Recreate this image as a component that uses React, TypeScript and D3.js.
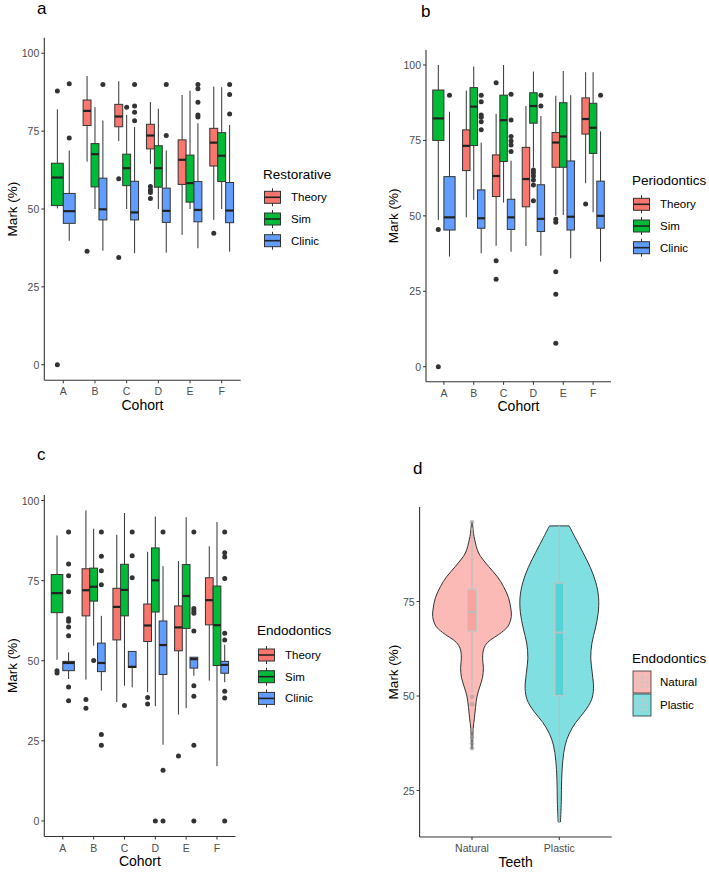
import React from 'react';
import * as d3 from 'd3';

const cohorts = ['A', 'B', 'C', 'D', 'E', 'F'];
const components = ['Theory', 'Sim', 'Clinic'];
const componentFill: Record<string, string> = { Theory: '#F8766D', Sim: '#00BA38', Clinic: '#619CFF' };
const markTicks = [0, 25, 50, 75, 100];

// [cohort, component, lower whisker, q1, median, q3, upper whisker, outliers]
type BoxRow = [string, string, number, number, number, number, number, number[]];

const restorative: BoxRow[] = [
  ['A', 'Sim', 50.2, 51.1, 60.1, 64.7, 82, [87.9, 0]],
  ['A', 'Clinic', 39.8, 45.4, 49.3, 55, 68.8, [90.2, 72.8]],
  ['B', 'Theory', 65.2, 76.8, 81.5, 85, 92.7, [36.4]],
  ['B', 'Sim', 50, 57.1, 67.6, 71, 82.7, []],
  ['B', 'Clinic', 36.6, 46.5, 49.9, 59.9, 78.4, [90]],
  ['C', 'Theory', 71.8, 76.4, 79.7, 83.6, 91, [59.7, 34.4]],
  ['C', 'Sim', 50, 57.5, 63.1, 67.6, 80.2, [82.7]],
  ['C', 'Clinic', 35.8, 46.5, 48.9, 58.9, 76.3, [90, 83.1, 81.1, 78.3]],
  ['D', 'Theory', 64.5, 69.3, 73.6, 77.2, 84.3, [57.2, 56.1, 55.3, 53.4]],
  ['D', 'Sim', 50, 57, 63.1, 70.3, 82.2, []],
  ['D', 'Clinic', 36, 45.7, 49.4, 56.7, 68.8, [90, 73.6]],
  ['E', 'Theory', 41.7, 57.9, 65.8, 72.2, 86.6, []],
  ['E', 'Sim', 50, 52.2, 58.3, 67.3, 88, []],
  ['E', 'Clinic', 37.4, 45.9, 49.7, 58.8, 77.5, [90, 88.6, 84.3, 80.2, 79.5]],
  ['F', 'Theory', 46.5, 63.8, 71.3, 75.9, 89.3, [42.2]],
  ['F', 'Sim', 50, 58.8, 67.1, 74.5, 89.1, []],
  ['F', 'Clinic', 36.3, 45.6, 49.5, 58.5, 77, [90, 86.8, 80.5]],
];

const periodontics: BoxRow[] = [
  ['A', 'Sim', 48.6, 75, 82.3, 91.7, 100, [45.5, 0]],
  ['A', 'Clinic', 36.5, 45.3, 49.5, 63, 84.5, [90]],
  ['B', 'Theory', 49.5, 65, 73.2, 78.5, 91.5, []],
  ['B', 'Sim', 55.3, 73.3, 86.2, 92.5, 99.5, []],
  ['B', 'Clinic', 37.6, 45.9, 49.2, 58.6, 74.3, [90, 87.8, 83.4, 82.7, 81.2, 78.5]],
  ['C', 'Theory', 40.1, 56.4, 63.2, 70.2, 83.8, [94.1, 35.1, 29]],
  ['C', 'Sim', 54.4, 68, 81.7, 90, 100, []],
  ['C', 'Clinic', 38.1, 45.5, 49.5, 55.5, 68.3, [90.3, 81.8, 76.3, 74.8, 73.5, 71.3]],
  ['D', 'Theory', 40, 53, 62.2, 72.7, 86.4, []],
  ['D', 'Sim', 66.1, 80.7, 86.4, 90.8, 97.8, [65.2, 64.3, 63.2, 61.9, 60.2, 55]],
  ['D', 'Clinic', 36.8, 44.8, 49, 60.3, 83.1, [90, 86.4]],
  ['E', 'Theory', 50, 66.1, 74.3, 77.6, 89.8, [48.9, 47.9, 31.5, 24, 7.8]],
  ['E', 'Sim', 50.3, 66.1, 76.3, 87.5, 98, []],
  ['E', 'Clinic', 35.9, 45.3, 49.7, 68.2, 90, []],
  ['F', 'Theory', 60.8, 77.1, 82.1, 89.1, 97.6, [53.9]],
  ['F', 'Sim', 51.2, 70.7, 79.2, 87.3, 97.6, []],
  ['F', 'Clinic', 34.8, 45.9, 50, 61.5, 78, [90]],
];

const endodontics: BoxRow[] = [
  ['A', 'Sim', 50.3, 65, 71.1, 76.9, 89.1, [46.9, 46.2]],
  ['A', 'Clinic', 44.3, 46.9, 49.3, 49.8, 52.6, [90.2, 80.2, 76.5, 71.5, 63.1, 62.3, 60.5, 57.8, 41.8, 37.5]],
  ['B', 'Theory', 44.1, 64, 72, 78.7, 96.9, [37.9, 35.2]],
  ['B', 'Sim', 54.7, 68.6, 73.1, 78.9, 91.2, [50.1]],
  ['B', 'Clinic', 40.7, 46.6, 49.3, 55.5, 64, [90.2, 82.6, 78.1, 73.7, 27, 23.6]],
  ['C', 'Theory', 37.1, 56.5, 66.8, 72.6, 89.3, []],
  ['C', 'Sim', 42.2, 64, 72.1, 80.1, 96.1, [36]],
  ['C', 'Clinic', 41.7, 47.9, 48.1, 52.9, 52.9, [90.2, 82.8, 75.9]],
  ['D', 'Theory', 40.2, 56, 61, 67.7, 84, [38.5, 36.5]],
  ['D', 'Sim', 35.8, 65.2, 75.1, 85.2, 95, [0]],
  ['D', 'Clinic', 23.8, 45.7, 54.9, 62.4, 79.5, [90.2, 15.8, 0]],
  ['E', 'Theory', 33.2, 53.1, 60.4, 67.1, 81.1, [20.3]],
  ['E', 'Sim', 35.2, 60.1, 70.2, 80, 94.8, []],
  ['E', 'Clinic', 45.3, 47.7, 50.5, 51.1, 51.1, [90.2, 66.3, 65.5, 64.8, 59.3, 42.2, 38.9, 23.6, 0]],
  ['F', 'Theory', 43.8, 61.2, 68.9, 75.9, 85.7, []],
  ['F', 'Sim', 17.1, 48.5, 61.1, 73.3, 93.3, []],
  ['F', 'Clinic', 43.3, 46.1, 48.7, 49.8, 55, [90.2, 83.7, 82.4, 75.7, 58.6, 56.5, 40.5, 38.4, 0]],
];

// Teeth comparison (violins with a narrow box inside)
const teeth = ['Natural', 'Plastic'];
const teethFill: Record<string, string> = { Natural: '#F8766D', Plastic: '#00BFC4' };
const teethTicks = [25, 50, 75];
const naturalMarks = [96, 93, 91.3, 87.8, 84.3, 81.5, 79, 76, 73, 71, 68.5, 66.8, 64.2, 62.5, 60, 57.5, 55, 52.5, 50, 47, 44, 41.4, 38.5, 36];
const naturalDensity = [0.01, 0.04, 0.07, 0.17, 0.42, 0.65, 0.8, 0.93, 0.99, 1.0, 0.92, 0.75, 0.4, 0.3, 0.27, 0.29, 0.27, 0.2, 0.13, 0.09, 0.06, 0.03, 0.02, 0.01];
const plasticMarks = [95, 92, 88, 84, 80, 76, 72, 68, 64, 60, 56, 52, 49, 46, 43, 40, 37, 33, 28, 22, 16.7];
const plasticDensity = [0.25, 0.4, 0.6, 0.79, 0.93, 1.0, 0.99, 0.92, 0.83, 0.8, 0.84, 0.87, 0.82, 0.65, 0.42, 0.25, 0.15, 0.09, 0.06, 0.05, 0.03];
// [lower whisker, q1, median, q3, upper whisker]
const naturalBox = [51, 67.2, 72.2, 78.2, 94.5];
const naturalOutliers = [96, 49.8, 47.8, 41, 39, 37.5, 36.2];
const plasticBox = [16.7, 50.1, 66.8, 79.9, 95];

const FONT = '"Liberation Sans", Arial, Helvetica, sans-serif';
const INK = '#333333';

interface PanelCfg {
  letter: string;
  letterPos: [number, number];
  data: BoxRow[];
  xRange: [number, number];
  yDomain: [number, number];
  yRange: [number, number];
  yTitleX: number;
  xTitle: string;
  legendTitle: string;
  legendX: number;
  legendTitleY: number;
  legendKeyY: number;
}

function AxisFrame({ x, y, ticks, xLabels, yTitleX, xTitle }: any) {
  const [x0, x1] = x.range();
  const [yb, yt] = y.range();
  return (
    <g fontFamily={FONT}>
      <line x1={x0} x2={x0} y1={yt} y2={yb} stroke={INK} strokeWidth={1.1} />
      <line x1={x0} x2={x1} y1={yb} y2={yb} stroke={INK} strokeWidth={1.1} />
      {ticks.map((t: number) => (
        <g key={t}>
          <line x1={x0 - 3} x2={x0} y1={y(t)} y2={y(t)} stroke={INK} strokeWidth={1} />
          <text x={x0 - 5} y={y(t)} textAnchor="end" dominantBaseline="central" fontSize={10.5} fill="#4D4D4D">{t}</text>
        </g>
      ))}
      {xLabels.map((c: string) => (
        <g key={c}>
          <line x1={x(c)} x2={x(c)} y1={yb} y2={yb + 3} stroke={INK} strokeWidth={1} />
          <text x={x(c)} y={yb + 11} textAnchor="middle" dominantBaseline="central" fontSize={10.5} fill="#4D4D4D">{c}</text>
        </g>
      ))}
      <text transform={`translate(${yTitleX},${(yb + yt) / 2}) rotate(-90)`} textAnchor="middle" dominantBaseline="central" fontSize={13.5} fill="#000">Mark (%)</text>
      <text x={(x0 + x1) / 2} y={yb + 24.5} textAnchor="middle" dominantBaseline="central" fontSize={14} fill="#000">{xTitle}</text>
    </g>
  );
}

function BoxPanel({ cfg }: { cfg: PanelCfg }) {
  const x = d3.scalePoint<string>().domain(cohorts).range(cfg.xRange).padding(0.6);
  const y = d3.scaleLinear().domain(cfg.yDomain).range(cfg.yRange);
  const dodge = x.step() * 0.75;

  const boxes = cohorts.flatMap(c => {
    const rows = cfg.data.filter(r => r[0] === c);
    const slot = dodge / rows.length;
    return rows.map((r, i) => ({ row: r, cx: (x(c) as number) - dodge / 2 + slot * (i + 0.5), w: slot }));
  });

  return (
    <g>
      <text x={cfg.letterPos[0]} y={cfg.letterPos[1]} fontFamily={FONT} fontSize={17} fill="#000">{cfg.letter}</text>
      <AxisFrame x={x} y={y} ticks={markTicks} xLabels={cohorts} yTitleX={cfg.yTitleX} xTitle={cfg.xTitle} />
      {boxes.map(({ row, cx, w }, k) => {
        const [, comp, lo, q1, med, q3, hi, out] = row;
        return (
          <g key={k}>
            <line x1={cx} x2={cx} y1={y(hi)} y2={y(q3)} stroke={INK} strokeWidth={1} />
            <line x1={cx} x2={cx} y1={y(q1)} y2={y(lo)} stroke={INK} strokeWidth={1} />
            <rect x={cx - w / 2} y={y(q3)} width={w} height={Math.max(0.5, y(q1) - y(q3))} fill={componentFill[comp]} stroke={INK} strokeWidth={1} />
            <line x1={cx - w / 2} x2={cx + w / 2} y1={y(med)} y2={y(med)} stroke="#222" strokeWidth={2.2} />
            {out.map((o, j) => (
              <circle key={j} cx={cx} cy={y(o)} r={2.5} fill={INK} />
            ))}
          </g>
        );
      })}
      <g fontFamily={FONT}>
        <text x={cfg.legendX} y={cfg.legendTitleY} dominantBaseline="central" fontSize={13.5} fill="#000">{cfg.legendTitle}</text>
        {components.map((comp, i) => {
          const cy = cfg.legendKeyY + i * 21.7;
          const kx = cfg.legendX + 9.5;
          return (
            <g key={comp}>
              <line x1={kx} x2={kx} y1={cy - 9} y2={cy + 9} stroke={INK} strokeWidth={1} />
              <rect x={kx - 8} y={cy - 6} width={16} height={12} fill={componentFill[comp]} stroke={INK} strokeWidth={1} />
              <line x1={kx - 8} x2={kx + 8} y1={cy} y2={cy} stroke="#222" strokeWidth={1.6} />
              <text x={cfg.legendX + 28} y={cy} dominantBaseline="central" fontSize={11.5} fill="#000">{comp}</text>
            </g>
          );
        })}
      </g>
    </g>
  );
}

function ViolinPanel() {
  const x = d3.scalePoint<string>().domain(teeth).range([419.6, 611.7]).padding(0.6);
  const y = d3.scaleLinear().domain([12.7, 100]).range([837, 507]);
  const halfMax = x.step() * 0.45;
  const w = d3.scaleLinear().domain([0, 1]).range([0, halfMax]);

  const shapes = [
    { name: 'Natural', marks: naturalMarks, dens: naturalDensity, box: naturalBox, out: naturalOutliers },
    { name: 'Plastic', marks: plasticMarks, dens: plasticDensity, box: plasticBox, out: [] as number[] },
  ];

  return (
    <g>
      <text x={413} y={474} fontFamily={FONT} fontSize={17} fill="#000">d</text>
      <AxisFrame x={x} y={y} ticks={teethTicks} xLabels={teeth} yTitleX={393} xTitle="Teeth" />
      {shapes.map(s => {
        const cx = x(s.name) as number;
        const pts = s.marks.map((m, i) => ({ m, d: s.dens[i] }));
        const area = d3.area<{ m: number; d: number }>()
          .y(p => y(p.m))
          .x0(p => cx - w(p.d))
          .x1(p => cx + w(p.d))
          .curve(d3.curveCatmullRom.alpha(0.5));
        const [lo, q1, med, q3, hi] = s.box;
        const bw = x.step() * 0.1;
        return (
          <g key={s.name}>
            <path d={area(pts) ?? ''} fill={teethFill[s.name]} fillOpacity={0.5} stroke={INK} strokeWidth={1} />
            <line x1={cx} x2={cx} y1={y(hi)} y2={y(q3)} stroke="#BDBDBD" strokeWidth={1.2} />
            <line x1={cx} x2={cx} y1={y(q1)} y2={y(lo)} stroke="#BDBDBD" strokeWidth={1.2} />
            <rect x={cx - bw / 2} y={y(q3)} width={bw} height={y(q1) - y(q3)} fill={teethFill[s.name]} fillOpacity={0.35} stroke="#C4C4C4" strokeWidth={1.3} />
            <line x1={cx - bw / 2} x2={cx + bw / 2} y1={y(med)} y2={y(med)} stroke="#BDBDBD" strokeWidth={2} />
            {s.out.map((o, j) => (
              <circle key={j} cx={cx} cy={y(o)} r={2.3} fill="#9E9E9E" fillOpacity={0.6} />
            ))}
          </g>
        );
      })}
      <g fontFamily={FONT}>
        <text x={632} y={658} dominantBaseline="central" fontSize={13.5} fill="#000">Endodontics</text>
        {teeth.map((t, i) => {
          const top = 671 + i * 23;
          return (
            <g key={t}>
              <rect x={633} y={top} width={18} height={22} fill={teethFill[t]} fillOpacity={0.5} stroke={INK} strokeWidth={0.8} />
              <line x1={642} x2={642} y1={top + 2} y2={top + 20} stroke="#C8C8C8" strokeWidth={0.8} />
              <rect x={637} y={top + 6} width={10} height={10} fill="none" stroke="#C8C8C8" strokeWidth={0.8} />
              <line x1={637} x2={647} y1={top + 11} y2={top + 11} stroke="#C8C8C8" strokeWidth={0.8} />
              <text x={660} y={top + 11} dominantBaseline="central" fontSize={11.5} fill="#000">{t}</text>
            </g>
          );
        })}
      </g>
    </g>
  );
}

const panels: PanelCfg[] = [
  {
    letter: 'a', letterPos: [37, 14], data: restorative,
    xRange: [44.3, 240.7], yDomain: [-5, 105], yRange: [380.3, 37.7], yTitleX: 12,
    xTitle: 'Cohort', legendTitle: 'Restorative', legendX: 263, legendTitleY: 174, legendKeyY: 197.3,
  },
  {
    letter: 'b', letterPos: [421, 17], data: periodontics,
    xRange: [426, 611], yDomain: [-5, 105], yRange: [381.8, 49.9], yTitleX: 393,
    xTitle: 'Cohort', legendTitle: 'Periodontics', legendX: 632, legendTitleY: 180, legendKeyY: 204.3,
  },
  {
    letter: 'c', letterPos: [37, 460], data: endodontics,
    xRange: [44.3, 235.5], yDomain: [-4.85, 101.75], yRange: [836.5, 494.9], yTitleX: 12,
    xTitle: 'Cohort', legendTitle: 'Endodontics', legendX: 257, legendTitleY: 630, legendKeyY: 655,
  },
];

export default function App() {
  return (
    <svg width={709} height={872} style={{ position: 'absolute', left: 0, top: 0, background: '#fff' }}>
      <rect width={709} height={872} fill="#fff" />
      {panels.map(p => <BoxPanel key={p.letter} cfg={p} />)}
      <ViolinPanel />
    </svg>
  );
}
